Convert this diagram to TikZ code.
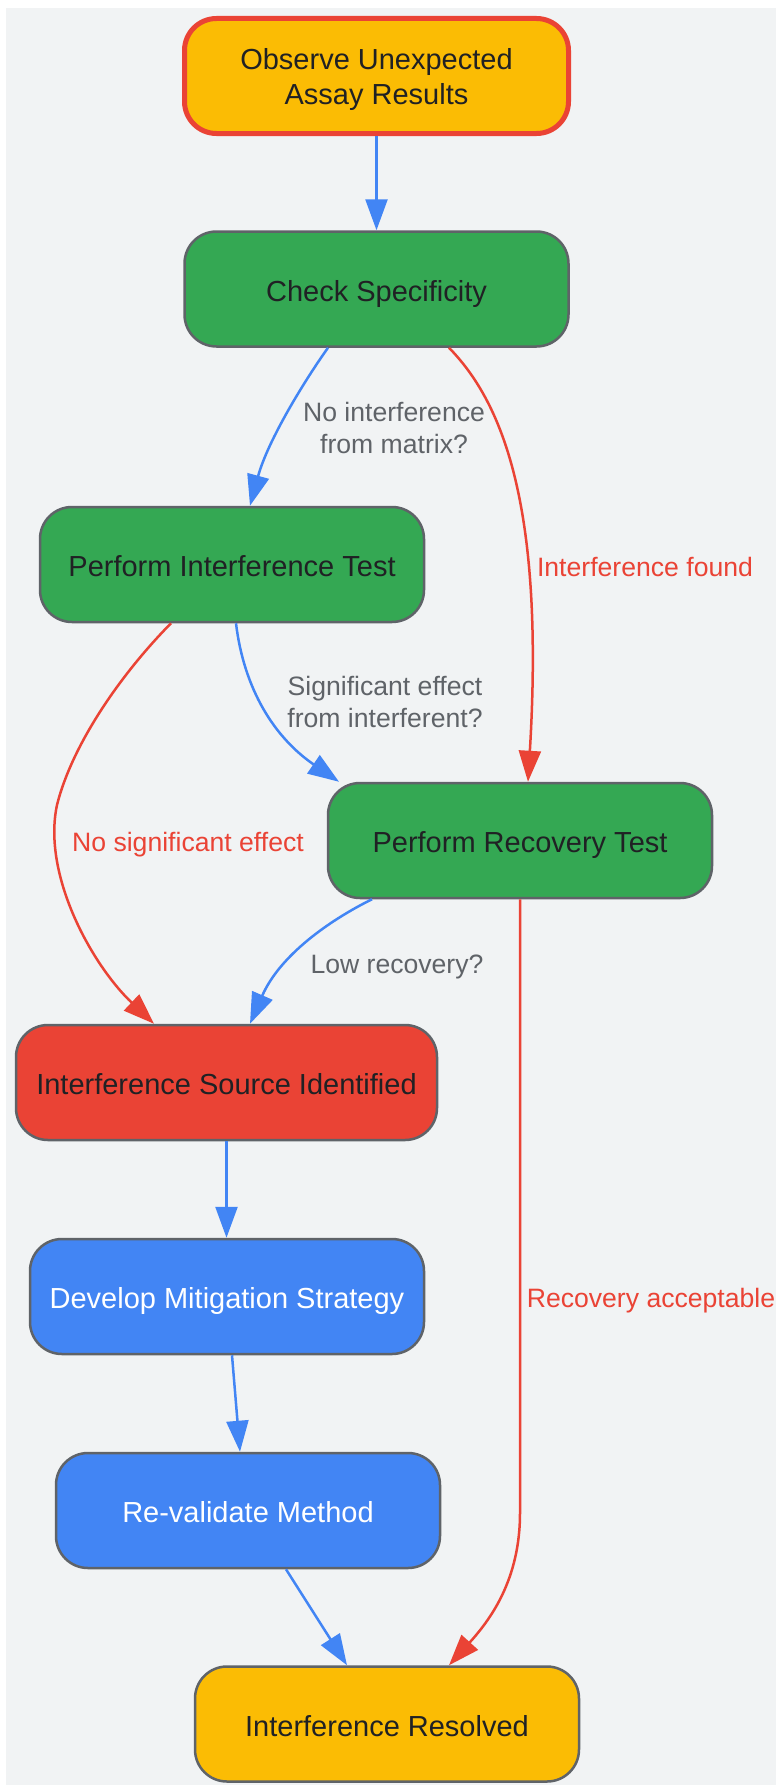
\documentclass[tikz,border=0pt]{standalone}
\usepackage{fontspec}
\setmainfont{Liberation Sans}
\usetikzlibrary{arrows.meta}
\definecolor{bgc}{HTML}{F1F3F4}
\definecolor{yelc}{HTML}{FBBC04}
\definecolor{grnc}{HTML}{34A853}
\definecolor{redc}{HTML}{EA4335}
\definecolor{bluc}{HTML}{4285F4}
\definecolor{bordc}{HTML}{5F6368}
\definecolor{txtc}{HTML}{202124}
\definecolor{lblc}{HTML}{5F6368}
\begin{document}
\begin{tikzpicture}[x=1pt,y=-1pt,
  box/.style={draw=bordc, line width=2.5pt, rounded corners=32pt,
    minimum width=384pt, minimum height=115pt, inner sep=0pt,
    align=center, font=\fontsize{29}{35}\selectfont, text=txtc,
    text height=24pt, text depth=0pt},
  lbl/.style={font=\fontsize{26.6}{32}\selectfont, text=lblc, align=center, inner sep=0pt},
  rlbl/.style={lbl, text=redc},
  barr/.style={draw=bluc, line width=2.5pt, -{Triangle[length=31pt,width=22pt]}},
  rarr/.style={draw=redc, line width=2.5pt, -{Triangle[length=31pt,width=22pt]}}
]
\useasboundingbox (0,0) rectangle (776,1785);
\fill[white] (0,0) rectangle (776,1785);
\fill[bgc] (6,8) rectangle (776,1785);

\node[box, fill=yelc, draw=redc, line width=5pt, text height=62pt, text depth=6pt] (obs) at (376.5,76) {Observe Unexpected\\Assay Results};
\node[box, fill=grnc] (chk) at (376.5,289) {Check Specificity};
\node[box, fill=grnc] (pit) at (232,564.5) {Perform Interference Test};
\node[box, fill=grnc] (prt) at (520,840.5) {Perform Recovery Test};
\node[box, fill=redc, minimum width=421pt] (isi) at (226.5,1082.5) {Interference Source Identified};
\node[box, fill=bluc, text=white, minimum width=394pt] (dms) at (227,1296.5) {Develop Mitigation Strategy};
\node[box, fill=bluc, text=white] (rvm) at (248,1510.5) {Re-validate Method};
\node[box, fill=yelc] (ir) at (387,1724) {Interference Resolved};

% edges
\draw[barr] (obs.south) -- (chk.north);
\draw[barr] ([xshift=-48.5pt]chk.south) .. controls (305,380) and (268,440) .. ([xshift=18pt]pit.north);
\draw[rarr] ([xshift=72.5pt]chk.south) .. controls (500,400) and (545,500) .. ([xshift=8pt]prt.north);
\draw[barr] ([xshift=4pt]pit.south) .. controls (244,690) and (275,738) .. ([xshift=-181pt]prt.north);
\draw[rarr] ([xshift=-61pt]pit.south) .. controls (120,675) and (72,745) .. (57,805) .. controls (42,875) and (92,965) .. ([xshift=-72.5pt]isi.north);
\draw[barr] ([xshift=-148pt]prt.south) .. controls (330,920) and (280,955) .. ([xshift=23.5pt]isi.north);
\draw[barr] (isi.south) -- (isi.south |- dms.north);
\draw[barr] ([xshift=5pt]dms.south) -- ([xshift=-8pt]rvm.north);
\draw[barr] ([xshift=38pt]rvm.south) -- ([xshift=-40pt]ir.north);
\coordinate (bend) at (520,1513);
\draw[rarr] (prt.south) -- (prt.south |- bend) .. controls (520,1580) and (490,1620) .. ([xshift=62pt]ir.north);

% labels
\node[lbl] (l1) at (394,428) {No interference\\from matrix?};
\node[rlbl] (l2) at (645,567) {Interference found};
\node[lbl] (l3) at (385,702) {Significant effect\\from interferent?};
\node[rlbl] (l4) at (188,844.5) {No significant effect};
\node[lbl] (l5) at (397,966.5) {Low recovery?};
\node[rlbl] (l6) at (651,1300.5) {Recovery acceptable};
\end{tikzpicture}
\end{document}
